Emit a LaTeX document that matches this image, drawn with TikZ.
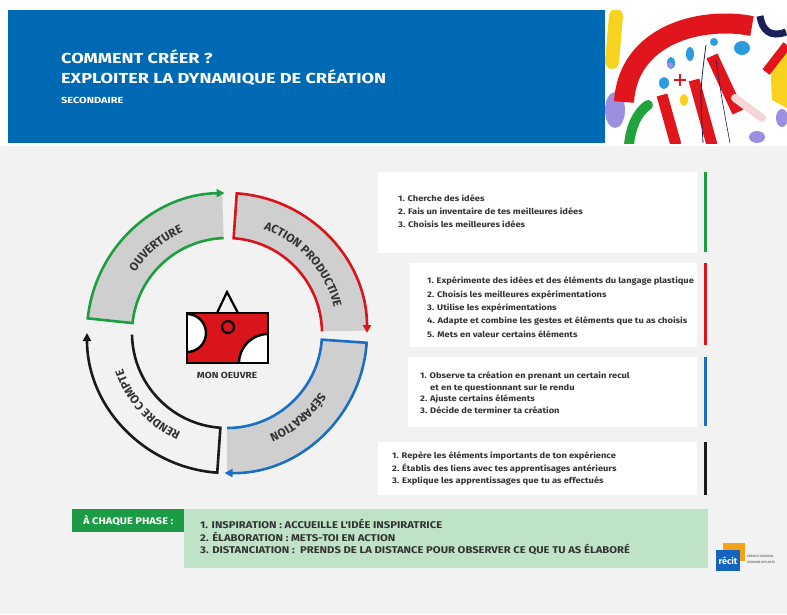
\documentclass[tikz,border=0pt]{standalone}
\usepackage{fontspec}
\setmainfont{Fira Sans}
\newfontfamily\widefont{Fira Sans}[FakeStretch=1.15]
\newfontfamily\titlefont{Fira Sans}[FakeStretch=1.25]
\usetikzlibrary{arrows.meta,decorations.text}

\definecolor{hdrblue}{HTML}{0069B4}
\definecolor{bg}{HTML}{F2F2F2}
\definecolor{ringgray}{HTML}{CFCFCF}
\definecolor{cgreen}{HTML}{1E9E3E}
\definecolor{cred}{HTML}{D9141B}
\definecolor{cblue}{HTML}{1C6EC1}
\definecolor{cblack}{HTML}{1A1A1A}
\definecolor{txt}{HTML}{333333}
\definecolor{lgreen}{HTML}{BEE3C7}
\definecolor{tagreen}{HTML}{1B9B45}
\definecolor{pred}{HTML}{E0161C}
\definecolor{pyellow}{HTML}{F7D21E}
\definecolor{pblue}{HTML}{2C9BE0}
\definecolor{ppurple}{HTML}{9C8FE0}
\definecolor{pgreen}{HTML}{1FA33A}
\definecolor{pnavy}{HTML}{1A1F5C}
\definecolor{ppink}{HTML}{F3D6D6}
\definecolor{logoorange}{HTML}{F5A21B}
\definecolor{logoblue}{HTML}{1565C0}

% one phase of the cycle: colour, start angle, end angle, arrow tip angle, fill
\newcommand\ringseg[5]{%
  \fill[#5] (#2:140pt) arc[start angle=#2, end angle=#3, radius=140pt]
    -- (#3:95pt) arc[start angle=#3, end angle=#2, radius=95pt] -- cycle;
  \draw[seg, #1] (#3:95pt) arc[start angle=#3, end angle=#2, radius=95pt]
    -- (#2:140pt) arc[start angle=#2, end angle=#4, radius=140pt];
}
\newcommand\arclabelfont{\fontsize{11.8}{12}\selectfont\bfseries\color{txt}}

\tikzset{
  seg/.style={line width=2.6pt, line join=miter, -{Triangle[length=8pt,width=8pt]}},
  panel/.style={fill=white, inner sep=0pt, anchor=north west},
  bar/.style={line width=3pt},
  item/.style={anchor=base west, inner sep=0pt, text=txt, font=\widefont\fontsize{8.1}{9}\selectfont\bfseries},
  phase/.style={anchor=base west, inner sep=0pt, text=txt, font=\widefont\fontsize{9.8}{10}\selectfont\bfseries},
  title/.style={anchor=base west, inner sep=0pt, text=white, font=\titlefont\fontsize{14.5}{15}\selectfont\bfseries},
}

\begin{document}
\begin{tikzpicture}[x=1pt,y=1pt]
\useasboundingbox (0,0) rectangle (787,-614);
\fill[bg] (0,0) rectangle (787,-614);
\fill[white] (0,0) rectangle (787,-146);

% header band
\fill[hdrblue] (8,-10) rectangle (605,-143);
\node[title] (t1) at (61,-63) {COMMENT CRÉER ?};
\node[title] (t2) at (61,-83) {EXPLOITER LA DYNAMIQUE DE CRÉATION};
\node[title, font=\titlefont\fontsize{8.8}{9}\selectfont\bfseries] (t3) at (61,-103) {SECONDAIRE};

% painted artwork in the header
\begin{scope}
\clip (605,-10) rectangle (787,-143);
\fill[white] (605,-10) rectangle (787,-143);
\draw[pyellow, line width=14pt, line cap=round] (616,-16) -- (612,-62);
\fill[ppurple] (615,-110) ellipse[x radius=10pt, y radius=18pt];
\draw[pred, line width=20pt] (624,-102) .. controls (628,-35) and (700,-16) .. (752,-26);
\draw[pgreen, line width=10pt, line cap=round] (629,-145) .. controls (631,-125) and (638,-112) .. (648,-105);
\draw[pred, line width=11pt] (662,-95) -- (676,-145);
\draw[pred, line width=11pt] (694,-80) -- (712,-145);
\draw[pred, line width=12pt] (712,-56) -- (738,-112);
\fill[pblue] (671,-63) ellipse[x radius=4pt, y radius=6pt];
\fill[pblue] (690,-54) ellipse[x radius=4pt, y radius=7pt];
\fill[pblue] (664,-83) ellipse[x radius=5pt, y radius=6pt];
\fill[pblue] (714,-42) circle[radius=4pt];
\fill[pblue] (742,-48) ellipse[x radius=8pt, y radius=7pt];
\fill[ppurple] (670,-65) circle[radius=3pt];
\draw[pred, line width=1.5pt] (674,-80) -- (686,-80) (680,-74) -- (680,-86);
\fill[pyellow] (684,-100) ellipse[x radius=4pt, y radius=6pt];
\draw[pnavy, line width=7pt] (760,-16) .. controls (762,-30) and (770,-38) .. (786,-32);
\fill[pyellow] (770,-62) -- (787,-50) -- (787,-108) -- (772,-100) -- cycle;
\draw[pred, line width=9pt] (766,-72) -- (787,-45);
\draw[pnavy, line width=0.8pt] (706,-45) .. controls (700,-90) .. (703,-143);
\draw[pnavy, line width=0.6pt] (716,-60) .. controls (722,-100) .. (730,-143);
\draw[ppink, line width=8pt, line cap=round] (735,-98) -- (762,-118);
\fill[ppurple] (757,-137) ellipse[x radius=8pt, y radius=6pt];
\fill[ppurple] (782,-118) ellipse[x radius=6pt, y radius=9pt];
\end{scope}

% cycle of the four phases
\coordinate (c) at (227,-333);
\begin{scope}[shift={(c)}]
\ringseg{cgreen}{174}{92}{91}{ringgray}
\ringseg{cred}{86}{1}{0}{ringgray}
\ringseg{cblue}{-4}{-90}{-91}{ringgray}
\ringseg{cblack}{-94}{-179}{-180}{bg}
\path[decorate, decoration={text along path, text align=center,
  text={|\arclabelfont|OUVERTURE}}]
  (170:110pt) arc[start angle=170, end angle=90, radius=110pt];
\path[decorate, decoration={text along path, text align=center,
  text={|\arclabelfont|ACTION PRODUCTIVE}}]
  (85:110pt) arc[start angle=85, end angle=-1, radius=110pt];
\path[decorate, decoration={text along path, text align=center,
  text={|\arclabelfont|SÉPARATION}}]
  (-5:110pt) arc[start angle=-5, end angle=-95, radius=110pt];
\path[decorate, decoration={text along path, text align=center,
  text={|\arclabelfont|RENDRE COMPTE}}]
  (-95:110pt) arc[start angle=-95, end angle=-181, radius=110pt];
\end{scope}

% the artwork icon in the middle
\begin{scope}
\clip (187,-313) rectangle (268,-363);
\fill[cred] (187,-313) rectangle (268,-363);
\filldraw[fill=white, draw=black, line width=2.4pt] (187,-333) circle[radius=19pt];
\filldraw[fill=white, draw=black, line width=2.4pt] (268,-363) circle[radius=29pt];
\end{scope}
\filldraw[fill=cred, draw=black, line width=2.2pt] (228,-327) circle[radius=6pt];
\draw[black, line width=2.6pt] (187,-313) rectangle (268,-363);
\draw[black, line width=2.2pt, line join=miter] (217,-313) -- (227,-292) -- (238,-313);
\node[anchor=base, inner sep=0pt, text=txt, font=\widefont\fontsize{8.8}{9}\selectfont\bfseries] (oeuvre) at (227,-378) {MON OEUVRE};

% step lists of each phase
\node[panel, minimum width=319pt, minimum height=81pt] (p1) at (378,-172) {};
\node[panel, minimum width=287pt, minimum height=84pt] (p2) at (410,-263) {};
\node[panel, minimum width=289pt, minimum height=70pt] (p3) at (408,-357) {};
\node[panel, minimum width=319pt, minimum height=53pt] (p4) at (378,-442) {};
\draw[bar, cgreen] (705,-172) -- (705,-252);
\draw[bar, cred] (705,-263) -- (705,-345);
\draw[bar, cblue] (705,-357) -- (705,-426);
\draw[bar, cblack] (705,-442) -- (705,-495);

\node[item] (a1) at (398,-201.5) {1. Cherche des idées};
\node[item] (a2) at (398,-214) {2. Fais un inventaire de tes meilleures idées};
\node[item] (a3) at (398,-227) {3. Choisis les meilleures idées};

\node[item] (b1) at (427,-283.7) {1. Expérimente des idées et des éléments du langage plastique};
\node[item] (b2) at (427,-297) {2. Choisis les meilleures expérimentations};
\node[item] (b3) at (427,-310) {3. Utilise les expérimentations};
\node[item] (b4) at (427,-323.5) {4. Adapte et combine les gestes et éléments que tu as choisis};
\node[item] (b5) at (427,-337) {5. Mets en valeur certains éléments};

\node[item] (s1) at (420,-378) {1. Observe ta création en prenant un certain recul};
\node[item] (s1b) at (430,-390) {et en te questionnant sur le rendu};
\node[item] (s2) at (420,-401.7) {2. Ajuste certains éléments};
\node[item] (s3) at (420,-413) {3. Décide de terminer ta création};

\node[item] (r1) at (392,-458.3) {1. Repère les éléments importants de ton expérience};
\node[item] (r2) at (392,-471) {2. Établis des liens avec tes apprentisages antérieurs};
\node[item] (r3) at (392,-483.3) {3. Explique les apprentissages que tu as effectués};

% what recurs in every phase
\fill[lgreen] (184,-509) rectangle (708,-568);
\node[fill=tagreen, text=white, font=\widefont\fontsize{9.6}{10}\selectfont\bfseries,
  minimum width=112pt, minimum height=23pt, inner sep=0pt, anchor=north west] (tag) at (72,-509) {À CHAQUE PHASE :};
\node[phase] (q1) at (200,-528) {1. INSPIRATION : ACCUEILLE L'IDÉE INSPIRATRICE};
\node[phase] (q2) at (200,-541) {2. ÉLABORATION : METS-TOI EN ACTION};
\node[phase] (q3) at (200,-553) {3. DISTANCIATION :\ \ PRENDS DE LA DISTANCE POUR OBSERVER CE QUE TU AS ÉLABORÉ};

% logo
\fill[logoorange] (723,-543) rectangle (745,-561);
\fill[logoblue] (716,-550) rectangle (740,-571);
\node[text=white, inner sep=0pt, font=\fontsize{9}{9}\selectfont\bfseries] (logo) at (728,-561) {récit};
\begin{scope}
\clip (746,-550) rectangle (787,-568);
\node[anchor=base west, inner sep=0pt, text=gray, font=\fontsize{3.2}{4}\selectfont\bfseries] (l1) at (747,-557) {SERVICE NATIONAL};
\node[anchor=base west, inner sep=0pt, text=gray, font=\fontsize{3.2}{4}\selectfont\bfseries] (l2) at (747,-563) {DOMAINE DES ARTS};
\end{scope}
\end{tikzpicture}
\end{document}
